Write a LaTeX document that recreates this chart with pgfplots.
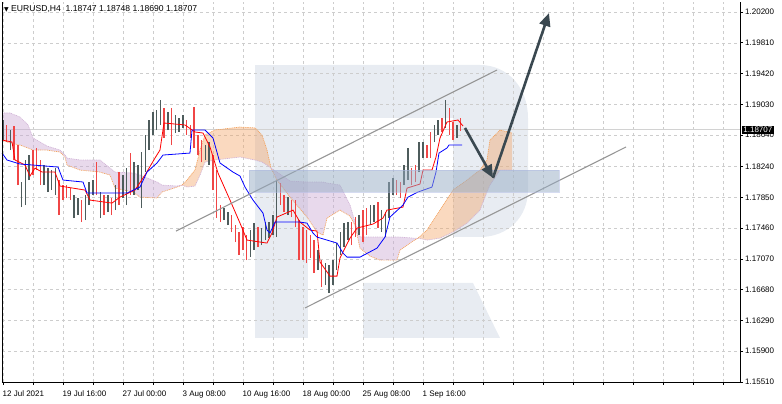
\documentclass[border=0pt]{standalone}
\usepackage{fontspec}
\setmainfont{Liberation Sans}
\newfontfamily\djv{DejaVu Sans}
\usepackage{pgfplots}
\usepackage{pgfplotstable}
\pgfplotsset{compat=1.18}
\usetikzlibrary{arrows.meta}

\definecolor{bull}{RGB}{78,92,92}
\definecolor{bear}{RGB}{240,70,70}
\definecolor{tenkan}{RGB}{255,0,0}
\definecolor{kijun}{RGB}{0,0,255}
\definecolor{spana}{RGB}{244,164,96}
\definecolor{spanb}{RGB}{210,180,215}
\definecolor{hatcha}{RGB}{242,160,95}
\definecolor{hatchb}{RGB}{200,165,210}
\definecolor{gridc}{RGB}{205,205,205}
\definecolor{wm}{RGB}{232,236,242}
\definecolor{arrowc}{RGB}{58,72,80}
\definecolor{chan}{RGB}{150,150,150}
\definecolor{zone}{RGB}{150,172,196}

% merged H4 candles: x = bar index, h, l, d (1 = bullish, 0 = bearish)
\pgfplotstableread{
x h l d
0 1.18831 1.18577 1
2 1.18768 1.18552 0
4 1.18704 1.18450 1
6 1.18755 1.18324 0
8 1.18514 1.18006 0
10 1.18045 1.17727 1
12 1.18324 1.17753 1
14 1.18387 1.18070 1
16 1.18450 1.18133 0
18 1.18476 1.18197 0
20 1.18324 1.18006 0
22 1.18260 1.18006 1
24 1.18222 1.17918 1
26 1.18197 1.17943 1
28 1.18222 1.17880 1
30 1.18070 1.17626 0
32 1.18006 1.17816 0
34 1.18006 1.17842 0
36 1.17968 1.17816 0
38 1.17880 1.17588 1
40 1.17842 1.17626 1
42 1.17816 1.17537 0
44 1.17880 1.17563 1
46 1.18045 1.17753 1
48 1.18070 1.17880 1
50 1.18298 1.17880 0
52 1.17918 1.17588 1
54 1.17880 1.17626 0
56 1.17880 1.17664 1
58 1.17842 1.17626 0
60 1.18006 1.17689 1
62 1.18171 1.17753 0
64 1.18133 1.17842 1
66 1.18222 1.17753 1
68 1.18412 1.17880 0
70 1.18298 1.17880 1
72 1.18260 1.17943 1
74 1.18425 1.17715 1
76 1.18641 1.18171 1
78 1.18831 1.18450 1
80 1.18933 1.18641 1
82 1.18958 1.18704 1
84 1.19085 1.18768 1
86 1.18983 1.18603 0
88 1.18933 1.18704 1
90 1.18983 1.18514 0
92 1.18894 1.18666 1
94 1.18856 1.18679 1
96 1.18894 1.18730 1
98 1.18831 1.18641 0
100 1.18768 1.18603 0
102 1.18996 1.18476 0
104 1.18641 1.18387 0
106 1.18577 1.18298 0
108 1.18514 1.18324 1
110 1.18552 1.18260 1
112 1.18387 1.17943 0
114 1.18197 1.17588 0
116 1.17753 1.17537 0
118 1.17715 1.17563 1
120 1.17664 1.17499 1
122 1.17626 1.17410 0
124 1.17499 1.17283 0
126 1.17410 1.17119 0
128 1.17474 1.17182 0
130 1.17372 1.17055 0
132 1.17436 1.17093 1
134 1.17524 1.17182 1
136 1.17474 1.17220 0
138 1.17461 1.17245 1
140 1.17537 1.17309 1
142 1.17537 1.17334 1
144 1.17626 1.17372 1
146 1.18070 1.17347 1
148 1.18032 1.17753 0
150 1.17880 1.17664 0
152 1.17854 1.17626 1
154 1.17816 1.17601 0
156 1.17816 1.17474 0
158 1.17563 1.17055 0
160 1.17474 1.17055 0
162 1.17436 1.17017 0
164 1.17372 1.17081 0
166 1.17309 1.16890 0
168 1.17182 1.16928 1
170 1.17055 1.16713 0
172 1.17017 1.16738 1
174 1.16992 1.16637 1
176 1.17055 1.16738 1
178 1.17271 1.16928 1
180 1.17410 1.17119 1
182 1.17524 1.17220 1
184 1.17537 1.17309 1
186 1.17537 1.17245 0
188 1.17601 1.17347 0
190 1.17626 1.17372 1
192 1.17689 1.17283 0
194 1.17715 1.17372 0
196 1.17753 1.17499 1
198 1.17753 1.17537 1
200 1.17791 1.17461 0
202 1.17689 1.17410 1
204 1.17664 1.17347 1
206 1.18045 1.17588 1
208 1.18095 1.17880 1
210 1.18070 1.17880 0
212 1.18045 1.17842 0
214 1.18260 1.18006 1
216 1.18476 1.18070 1
218 1.18222 1.18006 0
220 1.18260 1.18045 0
222 1.18552 1.18171 1
224 1.18552 1.18349 1
226 1.18514 1.18349 0
228 1.18679 1.18349 0
230 1.18768 1.18552 1
232 1.18831 1.18641 1
234 1.18856 1.18679 0
236 1.19085 1.18730 1
238 1.18983 1.18641 0
240 1.18806 1.18577 0
242 1.18768 1.18603 1
244 1.18856 1.18690 0
}\candles

% Ichimoku cloud: senkou span A (a) and span B (b)
\pgfplotstableread{
x a b
-0.53 1.18577 1.18920
3.73 1.18539 1.18920
9.07 1.18514 1.18869
13.33 1.18476 1.18768
16 1.18450 1.18603
23.47 1.18450 1.18501
30.4 1.18425 1.18450
33.07 1.18362 1.18387
34.13 1.18260 1.18349
41.07 1.18197 1.18324
51.73 1.18171 1.18324
57.07 1.18133 1.18222
59.73 1.17968 1.18171
69.33 1.17918 1.18159
73.07 1.17854 1.18133
82.13 1.17842 1.18045
84.8 1.17918 1.18006
92.8 1.17981 1.17994
95.47 1.18006 1.18006
98.13 1.18070 1.17981
102.4 1.18197 1.17994
105.07 1.18450 1.18133
107.73 1.18641 1.18298
113.07 1.18704 1.18324
126.4 1.18742 1.18362
134.4 1.18730 1.18324
138.13 1.18641 1.18298
140.8 1.18450 1.18260
142.93 1.18222 1.18222
146.13 1.18070 1.18171
153.07 1.17854 1.18057
162.13 1.17601 1.18045
167.47 1.17410 1.18045
170.67 1.17372 1.18045
172.8 1.17588 1.18032
179.73 1.17689 1.18006
185.07 1.17613 1.17753
187.73 1.17499 1.17537
190.4 1.17207 1.17347
195.73 1.17106 1.17347
201.07 1.17055 1.17347
210.13 1.17055 1.17347
211.73 1.17182 1.17347
218.67 1.17296 1.17334
221.33 1.17334 1.17334
226.13 1.17436 1.17309
233.07 1.17689 1.17334
240 1.17943 1.17410
247.47 1.18070 1.17524
254.4 1.18197 1.17689
258.13 1.18324 1.17918
259.73 1.18577 1.18006
265.07 1.18704 1.18197
271.47 1.18666 1.18197
}\cloud

% cloud twists as closed outlines (span A forward, span B back)
\pgfplotstableread{
x y
-0.53 1.18577
3.73 1.18539
9.07 1.18514
13.33 1.18476
16 1.18450
23.47 1.18450
30.4 1.18425
33.07 1.18362
34.13 1.18260
41.07 1.18197
51.73 1.18171
57.07 1.18133
59.73 1.17968
69.33 1.17918
73.07 1.17854
82.13 1.17842
84.8 1.17918
92.8 1.17981
95.47 1.18006
92.8 1.17994
84.8 1.18006
82.13 1.18045
73.07 1.18133
69.33 1.18159
59.73 1.18171
57.07 1.18222
51.73 1.18324
41.07 1.18324
34.13 1.18349
33.07 1.18387
30.4 1.18450
23.47 1.18501
16 1.18603
13.33 1.18768
9.07 1.18869
3.73 1.18920
-0.53 1.18920
}\twistA
\pgfplotstableread{
x y
95.47 1.18006
98.13 1.18070
102.4 1.18197
105.07 1.18450
107.73 1.18641
113.07 1.18704
126.4 1.18742
134.4 1.18730
138.13 1.18641
140.8 1.18450
142.93 1.18222
140.8 1.18260
138.13 1.18298
134.4 1.18324
126.4 1.18362
113.07 1.18324
107.73 1.18298
105.07 1.18133
102.4 1.17994
98.13 1.17981
}\twistB
\pgfplotstableread{
x y
142.93 1.18222
146.13 1.18070
153.07 1.17854
162.13 1.17601
167.47 1.17410
170.67 1.17372
172.8 1.17588
179.73 1.17689
185.07 1.17613
187.73 1.17499
190.4 1.17207
195.73 1.17106
201.07 1.17055
210.13 1.17055
211.73 1.17182
218.67 1.17296
221.33 1.17334
218.67 1.17334
211.73 1.17347
210.13 1.17347
201.07 1.17347
195.73 1.17347
190.4 1.17347
187.73 1.17537
185.07 1.17753
179.73 1.18006
172.8 1.18032
170.67 1.18045
167.47 1.18045
162.13 1.18045
153.07 1.18057
146.13 1.18171
}\twistC
\pgfplotstableread{
x y
221.33 1.17334
226.13 1.17436
233.07 1.17689
240 1.17943
247.47 1.18070
254.4 1.18197
258.13 1.18324
259.73 1.18577
265.07 1.18704
271.47 1.18666
271.47 1.18197
265.07 1.18197
259.73 1.18006
258.13 1.17918
254.4 1.17689
247.47 1.17524
240 1.17410
233.07 1.17334
226.13 1.17309
}\twistD

% Tenkan-sen
\pgfplotstableread{
x y
-0.53 1.18577
4.8 1.18552
6.4 1.18324
11.73 1.18260
14.4 1.18121
17.07 1.18222
20.8 1.18171
27.73 1.18171
30.4 1.17994
43.73 1.17943
46.4 1.17816
58.13 1.17778
62.4 1.17854
70.4 1.17943
75.73 1.18133
81.07 1.18349
83.73 1.18450
85.87 1.18793
97.07 1.18768
102.4 1.18679
106.67 1.18666
110.4 1.18489
114.67 1.18159
121.07 1.17816
126.4 1.17524
130.13 1.17309
140.8 1.17271
143.47 1.17398
146.13 1.17601
154.67 1.17689
158.4 1.17537
163.73 1.17436
167.47 1.17423
169.07 1.17030
174.4 1.16852
178.13 1.16852
179.73 1.17081
185.07 1.17334
188.8 1.17461
197.33 1.17512
202.67 1.17588
204.8 1.17689
213.33 1.17727
215.47 1.17968
222.4 1.18019
224 1.18197
228.8 1.18197
230.93 1.18362
233.07 1.18603
236.8 1.18806
242.67 1.18831
245.33 1.18755
}\tenkan

% Kijun-sen
\pgfplotstableread{
x y
-0.53 1.18412
2.13 1.18324
9.07 1.18273
29.33 1.18235
32 1.18070
42.67 1.18045
44.8 1.17905
66.13 1.17905
73.07 1.17981
76.8 1.18171
82.13 1.18286
85.33 1.18387
99.73 1.18412
100.8 1.18704
107.73 1.18704
112 1.18603
115.73 1.18286
122.67 1.18171
126.4 1.18121
129.07 1.17981
133.33 1.17816
138.67 1.17651
140.8 1.17436
142.4 1.17398
145.07 1.17537
158.4 1.17537
162.13 1.17524
165.33 1.17398
167.47 1.17347
178.13 1.17271
181.33 1.17144
183.47 1.17093
190.4 1.17093
199.47 1.17207
203.73 1.17347
206.4 1.17601
213.33 1.17753
216 1.17854
221.33 1.17918
228.8 1.17981
230.93 1.18171
232.53 1.18412
236.8 1.18476
237.87 1.18514
244.8 1.18514
}\kijun

\begin{document}
\begin{tikzpicture}
% watermark logo (background decoration, picture coordinates in px)
\begin{scope}[shift={(0pt,404pt)},x=1pt,y=-1pt]
\fill[wm] (255,65) rectangle (308,338);
\fill[wm] (308,65) -- (480,65) .. controls (508,65) and (528,88) .. (528,118) -- (528,190)
  .. controls (528,217) and (508,237) .. (480,237) -- (453,237) -- (453,118) -- (308,118) -- cycle;
\fill[wm] (363,283) -- (473,283) -- (500,338) -- (363,338) -- cycle;
\end{scope}
\begin{axis}[
  at={(2pt,22pt)}, anchor=south west, scale only axis,
  width=738pt, height=380pt,
  xmin=-0.533, xmax=393.07, ymin=1.15510, ymax=1.20327,
  axis x line*=bottom, axis y line*=right,
  axis line style={black, line width=0.8pt},
  clip=false,
  /pgf/number format/assume math mode=true,
  xtick={0,16,...,384},
  xticklabels={12 Jul 2021,,19 Jul 16:00,,27 Jul 00:00,,3 Aug 08:00,,10 Aug 16:00,,18 Aug 00:00,,25 Aug 08:00,,1 Sep 16:00,,,,,,,,,,,},
  ytick={1.15510,1.15900,1.16290,1.16680,1.17070,1.17460,1.17850,1.18240,1.18640,1.19030,1.19420,1.19810,1.20200},
  yticklabels={1.15510,1.15900,1.16290,1.16680,1.17070,1.17460,1.17850,1.18240,1.18640,1.19030,1.19420,1.19810,1.20200},
  grid=major,
  major grid style={gridc, dash pattern=on 3pt off 3pt, line width=0.5pt},
  tick align=outside, major tick length=3pt,
  tick style={black, line width=0.6pt},
  xticklabel style={anchor=north west, inner sep=0pt, xshift=-0.5pt, yshift=-6pt, font=\fontsize{8}{9}\selectfont},
  yticklabel style={anchor=west, inner sep=0pt, xshift=2pt, font=\fontsize{8}{9}\selectfont},
]
% current price line
\addplot[gray!35, line width=0.6pt] coordinates {(-0.533,1.18707) (393.07,1.18707)};
% cloud fill
\addplot[fill=hatchb, fill opacity=0.42, draw=none] table[x=x,y=y]{\twistA};
\addplot[fill=hatcha, fill opacity=0.4, draw=none] table[x=x,y=y]{\twistB};
\addplot[fill=hatchb, fill opacity=0.42, draw=none] table[x=x,y=y]{\twistC};
\addplot[fill=hatcha, fill opacity=0.4, draw=none] table[x=x,y=y]{\twistD};
% cloud boundaries
\addplot[spana, line width=0.7pt, dash pattern=on 1pt off 0.8pt] table[x=x,y=a]{\cloud};
\addplot[spanb, line width=0.7pt, dash pattern=on 1pt off 0.8pt] table[x=x,y=b]{\cloud};
% candles
\addplot[bull, line width=1.5pt, line cap=butt, quiver={u=0, v=\thisrow{h}-\thisrow{l}},
  restrict expr to domain={\thisrow{d}}{0.5:1.5}] table[x=x, y=l]{\candles};
\addplot[bear, line width=1.5pt, line cap=butt, quiver={u=0, v=\thisrow{h}-\thisrow{l}},
  restrict expr to domain={\thisrow{d}}{-0.5:0.5}] table[x=x, y=l]{\candles};
% Tenkan / Kijun
\addplot[tenkan, line width=0.8pt] table[x=x,y=y]{\tenkan};
\addplot[kijun, line width=0.8pt] table[x=x,y=y]{\kijun};
% channel
\draw[chan, line width=1.1pt] (axis cs:92.27,1.17423) -- (axis cs:263.47,1.19465);
\draw[chan, line width=1.1pt] (axis cs:161.07,1.16448) -- (axis cs:332.27,1.18489);
% zone
\fill[zone, opacity=0.5] (axis cs:131.2,1.17918) rectangle (axis cs:296.53,1.18197);
\draw[zone!80!blue!60, opacity=0.5, line width=0.6pt] (axis cs:131.2,1.17918) rectangle (axis cs:296.53,1.18197);
% arrows
\draw[arrowc, line width=2.6pt, -{Triangle[length=13pt,width=11pt]}] (axis cs:246.4,1.18730) -- (axis cs:261.33,1.18096);
\draw[arrowc, line width=2.6pt, -{Triangle[length=13pt,width=11pt]}] (axis cs:261.33,1.18096) -- (axis cs:291.2,1.20187);
% left border
\draw[black, line width=0.8pt] (rel axis cs:0,0) -- (rel axis cs:0,1);
% price label
\node[fill=black, text=white, anchor=west, inner sep=1.2pt, font=\fontsize{8}{9}\selectfont] at (axis cs:393.07,1.18707) [xshift=2pt] {1.18707};
% title
\node[anchor=west, inner sep=0pt, font=\fontsize{8.6}{9}\selectfont] at (rel axis cs:0,1) [xshift=2pt, yshift=-7pt] {{\djv\fontsize{6}{6}\selectfont ▼}\ EURUSD,H4\ \ 1.18747\ 1.18748\ 1.18690\ 1.18707};
\end{axis}
\pgfresetboundingbox
\useasboundingbox (0,0) rectangle (782pt,404pt);
\end{tikzpicture}
\end{document}
